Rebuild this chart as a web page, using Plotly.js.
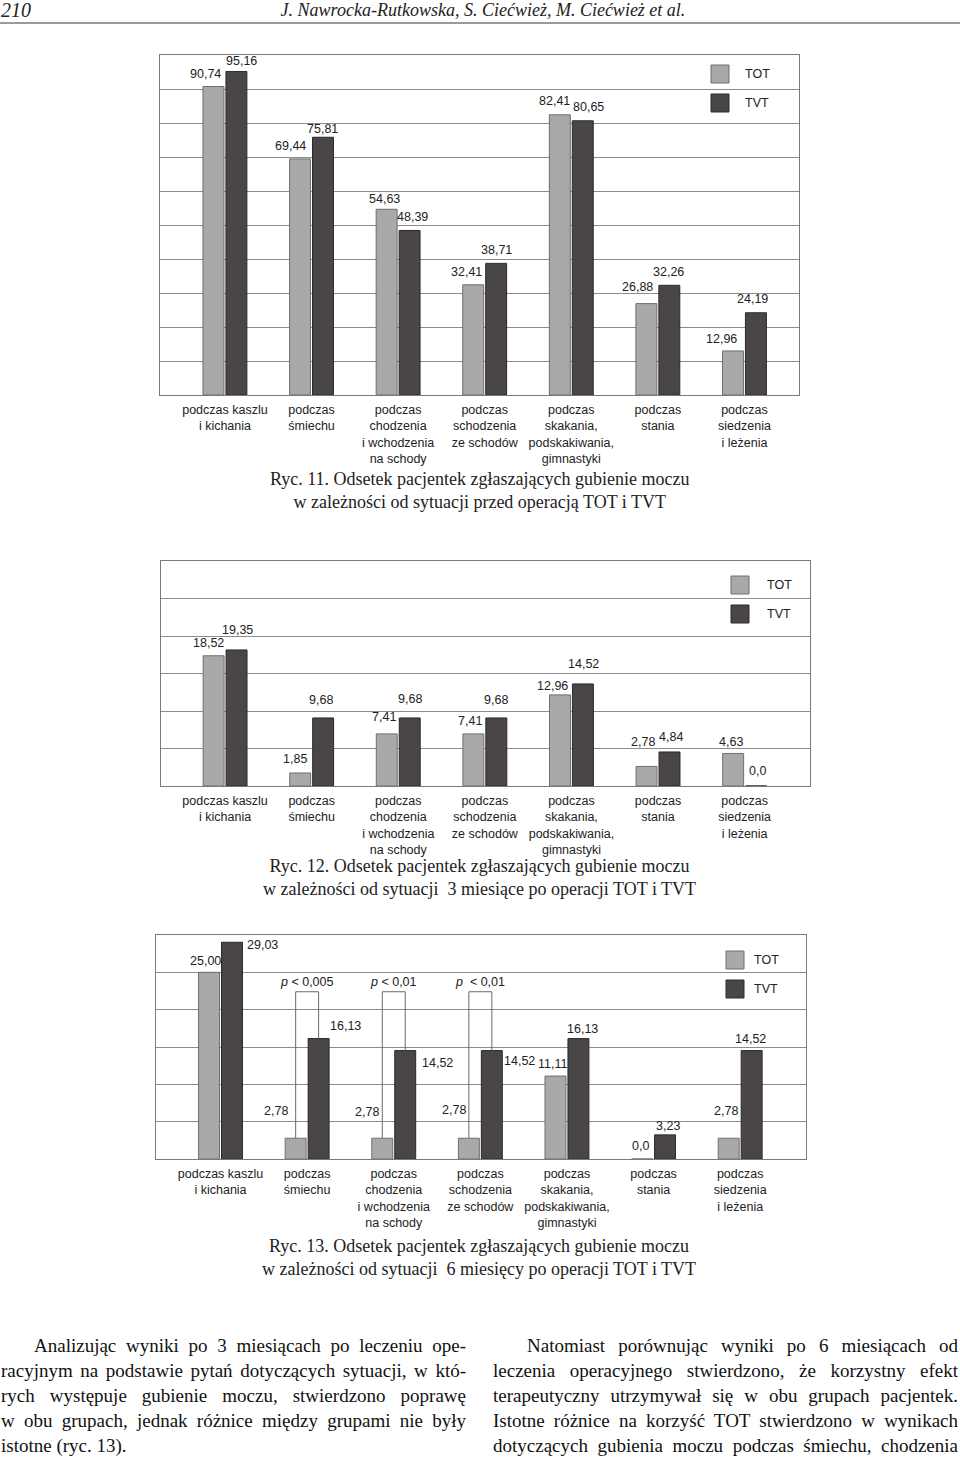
<!DOCTYPE html>
<html>
<head>
<meta charset="utf-8">
<script src="https://cdn.plot.ly/plotly-3.0.1.min.js"></script>
<style>
  body { margin: 0; background: #fff; }
  #page { position: relative; width: 960px; height: 1459px; overflow: hidden; }
  #graph { position: absolute; left: 0; top: 0; width: 960px; height: 1459px; }
  .hdr { position: absolute; font-family: 'Liberation Serif', serif; font-style: italic; color: #222; white-space: nowrap; }
  .rule { position: absolute; left: 0; top: 22px; width: 960px; height: 2px; background: #9a9a9a; }
  .col { position: absolute; top: 1333px; font-family: 'Liberation Serif', serif; font-size: 19px; line-height: 25px; color: #111; }
  .col div { text-align: justify; text-align-last: justify; }
  .col div.last { text-align-last: left; }
</style>
</head>
<body>
<div id="page">
  <div id="graph"></div>
  <div class="hdr" style="left:1px; top:0px; font-size:20px; line-height:20px;">210</div>
  <div class="hdr" style="left:0; width:966px; text-align:center; top:1px; font-size:18px; line-height:18px;">J. Nawrocka-Rutkowska, S. Ciećwież, M. Ciećwież et al.</div>
  <div class="rule"></div>

  <div class="col" style="left:1px; width:465px;">
    <div style="padding-left:33px;">Analizując wyniki po 3 miesiącach po leczeniu ope-</div>
    <div>racyjnym na podstawie pytań dotyczących sytuacji, w któ-</div>
    <div>rych występuje gubienie moczu, stwierdzono poprawę</div>
    <div>w obu grupach, jednak różnice między grupami nie były</div>
    <div class="last">istotne (ryc. 13).</div>
  </div>
  <div class="col" style="left:493px; width:465px;">
    <div style="padding-left:34px;">Natomiast porównując wyniki po 6 miesiącach od</div>
    <div>leczenia operacyjnego stwierdzono, że korzystny efekt</div>
    <div>terapeutyczny utrzymywał się w obu grupach pacjentek.</div>
    <div>Istotne różnice na korzyść TOT stwierdzono w wynikach</div>
    <div>dotyczących gubienia moczu podczas śmiechu, chodzenia</div>
  </div>
</div>

<script>
// dane z ryc. 11, 12, 13 (odsetek pacjentek, %)
const categories = [
  'podczas kaszlu<br>i kichania',
  'podczas<br>śmiechu',
  'podczas<br>chodzenia<br>i wchodzenia<br>na schody',
  'podczas<br>schodzenia<br>ze schodów',
  'podczas<br>skakania,<br>podskakiwania,<br>gimnastyki',
  'podczas<br>stania',
  'podczas<br>siedzenia<br>i leżenia'
];
const seriesNames = ['TOT', 'TVT'];

const tot11 = [90.74, 69.44, 54.63, 32.41, 82.41, 26.88, 12.96];
const tvt11 = [95.16, 75.81, 48.39, 38.71, 80.65, 32.26, 24.19];

const tot12 = [18.52, 1.85, 7.41, 7.41, 12.96, 2.78, 4.63];
const tvt12 = [19.35, 9.68, 9.68, 9.68, 14.52, 4.84, 0.0];

const tot13 = [25.00, 2.78, 2.78, 2.78, 11.11, 0.0, 2.78];
const tvt13 = [29.03, 16.13, 14.52, 14.52, 16.13, 3.23, 14.52];
const pText13 = ['', '<i>p</i> &lt; 0,005', '<i>p</i> &lt; 0,01', '<i>p</i>&nbsp; &lt; 0,01', '', '', ''];

const captions = [
  'Ryc. 11. Odsetek pacjentek zgłaszających gubienie moczu<br>w zależności od sytuacji przed operacją TOT i TVT',
  'Ryc. 12. Odsetek pacjentek zgłaszających gubienie moczu<br>w zależności od sytuacji &nbsp;3 miesiące po operacji TOT i TVT',
  'Ryc. 13. Odsetek pacjentek zgłaszających gubienie moczu<br>w zależności od sytuacji &nbsp;6 miesięcy po operacji TOT i TVT'
];

// przesunięcia etykiet wartości (px) względem środka szczytu słupka: [dx, w górę]
const nudge11 = {
  tot: [[-8, 12], [-10, 13], [-2, 10], [-7, 13], [-5, 14], [-9, 17], [-11, 12]],
  tvt: [[5, 10], [-1, 8], [3, 13], [0, 13], [6, 14], [-1, 13], [-3, 14]]
};
const nudge12 = {
  tot: [[-5, 13], [-5, 14], [-3, 17], [-3, 13], [-7, 9], [-4, 24], [-2, 11]],
  tvt: [[1, 20], [-2, 18], [0, 19], [0, 18], [1, 20], [1, 15], [1, 15]]
};
const nudge13 = {
  tot: [[-4, 11], [-20, 27], [-15, 26], [-15, 28], [-3, 12], [-2, 13], [-3, 27]],
  tvt: [[30, -3], [27, 13], [32, -12], [28, -10], [4, 10], [3, 9], [-1, 12]]
};

const W = 960, H = 1459;
const COL_TOT = '#a9a9a9', LINE_TOT = '#6e6e6e';
const COL_TVT = '#4a4647', LINE_TVT = '#2a2a2a';
const GRID = '#8c8c8c';
const sansFont = { family: 'Liberation Sans, Arial, sans-serif', size: 12.5, color: '#222' };

const px = x => x / W;
const py = y => 1 - y / H;

function fmt(v) {
  return v === 0 ? '0,0' : v.toFixed(2).replace('.', ',');
}

function barTraces(n, tot, tvt) {
  const sfx = n === 1 ? '' : String(n);
  return [
    { type: 'bar', x: categories, y: tot, name: seriesNames[0], xaxis: 'x' + sfx, yaxis: 'y' + sfx,
      marker: { color: COL_TOT, line: { color: LINE_TOT, width: 1 } }, showlegend: false, hoverinfo: 'none' },
    { type: 'bar', x: categories, y: tvt, name: seriesNames[1], xaxis: 'x' + sfx, yaxis: 'y' + sfx,
      marker: { color: COL_TVT, line: { color: LINE_TVT, width: 1 } }, showlegend: false, hoverinfo: 'none' }
  ];
}

function valueLabels(n, tot, tvt, nudge) {
  const sfx = n === 1 ? '' : String(n);
  const out = [];
  [[tot, nudge.tot, -11.5], [tvt, nudge.tvt, 11.5]].forEach(([vals, nd, off]) => {
    vals.forEach((v, i) => {
      out.push({
        xref: 'x' + sfx, yref: 'y' + sfx, x: categories[i], y: v,
        xshift: off + nd[i][0], yshift: nd[i][1],
        xanchor: 'center', yanchor: 'middle',
        text: fmt(v), showarrow: false, font: sansFont
      });
    });
  });
  return out;
}

// legenda rysowana ręcznie: kwadraty 18 px i podpisy
function legendAt(boxLeft, top1, top2, textLeft) {
  const shapes = [
    { type: 'rect', xref: 'paper', yref: 'paper', x0: px(boxLeft), x1: px(boxLeft + 18), y0: py(top1), y1: py(top1 + 18),
      fillcolor: COL_TOT, line: { color: LINE_TOT, width: 1 } },
    { type: 'rect', xref: 'paper', yref: 'paper', x0: px(boxLeft), x1: px(boxLeft + 18), y0: py(top2), y1: py(top2 + 18),
      fillcolor: COL_TVT, line: { color: LINE_TVT, width: 1 } }
  ];
  const annos = [
    { xref: 'paper', yref: 'paper', x: px(textLeft), y: py(top1 + 9), xanchor: 'left', yanchor: 'middle',
      text: seriesNames[0], showarrow: false, font: sansFont },
    { xref: 'paper', yref: 'paper', x: px(textLeft), y: py(top2 + 9), xanchor: 'left', yanchor: 'middle',
      text: seriesNames[1], showarrow: false, font: sansFont }
  ];
  return { shapes, annos };
}

function xAxis(left, right, anchor, range) {
  return {
    domain: [px(left), px(right)], anchor: anchor, type: 'category',
    categoryorder: 'array', categoryarray: categories, range: range,
    showline: true, mirror: true, linecolor: '#7a7a7a', linewidth: 1,
    showgrid: false, ticks: '', tickfont: sansFont, ticklabelstandoff: 3, fixedrange: true
  };
}
function yAxis(top, bottom, anchor, range, dtick) {
  return {
    domain: [py(bottom), py(top)], anchor: anchor, range: range, dtick: dtick, tick0: 0,
    showticklabels: false, ticks: '', showgrid: true, gridcolor: GRID, gridwidth: 1,
    zeroline: false, showline: true, mirror: true, linecolor: '#7a7a7a', linewidth: 1, fixedrange: true
  };
}

const data = [].concat(
  barTraces(1, tot11, tvt11),
  barTraces(2, tot12, tvt12),
  barTraces(3, tot13, tvt13)
);

let shapes = [];
let annotations = [].concat(
  valueLabels(1, tot11, tvt11, nudge11),
  valueLabels(2, tot12, tvt12, nudge12),
  valueLabels(3, tot13, tvt13, nudge13)
);

[legendAt(711, 65, 94, 743), legendAt(731, 576, 605, 765), legendAt(726, 951, 980, 752)].forEach(l => {
  shapes = shapes.concat(l.shapes);
  annotations = annotations.concat(l.annos);
});

// klamry istotności na ryc. 13
const bracketTop = 22.4;
const half = 0.1325;
pText13.forEach((t, i) => {
  if (!t) return;
  const ln = { type: 'line', xref: 'x3', yref: 'y3', line: { color: '#6a6a6a', width: 1 } };
  shapes.push(Object.assign({}, ln, { x0: i - half, x1: i - half, y0: tot13[i], y1: bracketTop }));
  shapes.push(Object.assign({}, ln, { x0: i - half, x1: i + half, y0: bracketTop, y1: bracketTop }));
  shapes.push(Object.assign({}, ln, { x0: i + half, x1: i + half, y0: bracketTop, y1: tvt13[i] }));
  annotations.push({ xref: 'x3', yref: 'y3', x: i, y: bracketTop, yshift: 10, xanchor: 'center', yanchor: 'middle',
    text: t, showarrow: false, font: sansFont });
});

// podpisy rycin
const captionY = [491, 877, 1257];
captions.forEach((c, i) => {
  annotations.push({ xref: 'paper', yref: 'paper', x: px(479), y: py(captionY[i]), xanchor: 'center', yanchor: 'middle',
    text: c, showarrow: false, font: { family: 'Liberation Serif, Times New Roman, serif', size: 18, color: '#222' } });
});

const layout = {
  width: W, height: H,
  margin: { l: 0, r: 0, t: 0, b: 0 },
  paper_bgcolor: 'rgba(0,0,0,0)', plot_bgcolor: '#fff',
  barmode: 'group', bargap: 0.47, bargroupgap: 0.087,
  showlegend: false,
  xaxis: xAxis(160, 799, 'y', [-0.75, 6.63]),
  yaxis: yAxis(55, 395, 'x', [0, 100], 10),
  xaxis2: xAxis(161, 810, 'y2', [-0.74, 6.755]),
  yaxis2: yAxis(561, 786, 'x2', [0, 32], 32 / 6),
  xaxis3: xAxis(156, 806, 'y3', [-0.745, 6.76]),
  yaxis3: yAxis(935, 1159, 'x3', [0, 30], 5),
  shapes: shapes,
  annotations: annotations
};

Plotly.newPlot('graph', data, layout, { displayModeBar: false, staticPlot: true });
</script>
</body>
</html>
